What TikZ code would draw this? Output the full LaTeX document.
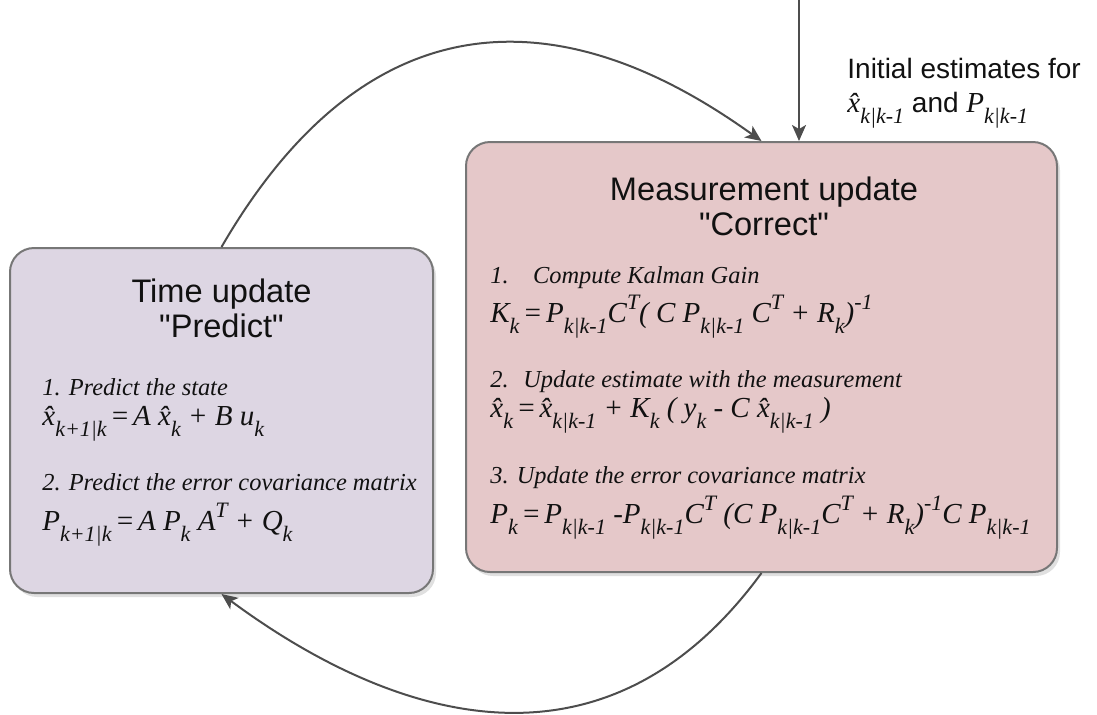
\documentclass[tikz,border=0pt]{standalone}
\usepackage{fontspec}
\setmainfont{Liberation Serif}
\setsansfont{Liberation Sans}[Ligatures=TeXOff]
\usetikzlibrary{arrows.meta, positioning, calc, shadows}
\definecolor{PredictFill}{HTML}{DDD6E3}
\definecolor{CorrectFill}{HTML}{E5C8C9}
\definecolor{BoxLine}{HTML}{777777}
\definecolor{ArrowGray}{HTML}{4D4D4D}
\definecolor{DarkText}{HTML}{111111}

% small helpers for the italic formulas
\newcommand\sub[1]{\raisebox{-0.4em}{\fontsize{11}{12}\selectfont #1}}
\newcommand\sups[1]{\raisebox{0.42em}{\fontsize{11}{12}\selectfont #1}}
\newcommand\xhat{\^{x}}
\newcommand\eqs{\hspace{0.12em}=\hspace{0.12em}}
\newcommand\eqp[1]{{\rmfamily\itshape\fontsize{14.5}{17}\selectfont #1}}

\tikzset{
  stagebox/.style={draw=BoxLine, rounded corners=12pt, line width=1pt,
    drop shadow={shadow xshift=1.5pt, shadow yshift=-2pt, opacity=0.12, fill=black}},
  titletext/.style={font=\sffamily\fontsize{16.3}{18}\selectfont, text=DarkText, anchor=base, inner sep=0pt},
  labeltext/.style={font=\sffamily\fontsize{14}{16}\selectfont, text=DarkText, anchor=base west, inner sep=0pt},
  steptext/.style={font=\itshape\fontsize{12.2}{14}\selectfont, text=DarkText, anchor=base west, inner sep=0pt},
  eqtext/.style={font=\itshape\fontsize{14.5}{17}\selectfont, text=DarkText, anchor=base west, inner sep=0pt},
  flow/.style={draw=ArrowGray, line width=1pt, -{Stealth[length=8pt,width=7pt,inset=2pt]}}
}

\begin{document}
\begin{tikzpicture}[x=0.5pt, y=-0.5pt]
  \useasboundingbox (0,0) rectangle (1097,714);

  % the two stages
  \node[stagebox, fill=PredictFill, minimum width=211.5pt, minimum height=172.5pt] (predict) at (221.5,420.5) {};
  \node[stagebox, fill=CorrectFill, minimum width=295.5pt, minimum height=215pt] (correct) at (761.5,357) {};

  % time update
  \node[titletext] (predtitle) at (221.5,302) {Time update};
  \node[titletext] (predname) at (221.5,337) {"Predict"};
  \node[steptext] (predone) at (42,395) {1. Predict the state};
  \node[eqtext] (predeqone) at (42,425) {\xhat\sub{k+1|k}\eqs A \xhat\sub{k} + B u\sub{k}};
  \node[steptext] (predtwo) at (42,490) {2. Predict the error covariance matrix};
  \node[eqtext] (predeqtwo) at (42,530) {P\sub{k+1|k}\eqs A P\sub{k} A\sups{T} + Q\sub{k}};

  % measurement update
  \node[titletext] (corrtitle) at (764,200) {Measurement update};
  \node[titletext] (corrname) at (764,235) {"Correct"};
  \node[steptext] (corrone) at (490,283) {1.\hspace{1em}Compute Kalman Gain};
  \node[eqtext] (correqone) at (490,322) {K\sub{k}\eqs P\sub{k|k-1}C\sups{T}( C P\sub{k|k-1} C\sups{T} + R\sub{k})\sups{-1}};
  \node[steptext] (corrtwo) at (490,387) {2.\hspace{0.6em}Update estimate with the measurement};
  \node[eqtext] (correqtwo) at (490,417) {\xhat\sub{k}\eqs\xhat\sub{k|k-1} + K\sub{k} ( y\sub{k} - C \xhat\sub{k|k-1} )};
  \node[steptext] (corrthree) at (490,483) {3. Update the error covariance matrix};
  \node[eqtext] (correqthree) at (490,523) {P\sub{k}\eqs P\sub{k|k-1} -P\sub{k|k-1}C\sups{T} (C P\sub{k|k-1}C\sups{T} + R\sub{k})\sups{-1}C P\sub{k|k-1}};

  % initial estimates
  \node[labeltext] (initone) at (847,78) {Initial estimates for};
  \node[labeltext] (inittwo) at (847,112) {\eqp{\xhat\sub{k|k-1}} and \eqp{P\sub{k|k-1}}};

  \coordinate (init) at (799,0);
  \coordinate (initend) at ($(correct.north)+(37.5,0)$);
  \draw[flow] (init) -- (initend);

  % the loop
  \draw[flow] (predict.north) .. controls (413,-83) and (659,68) .. (correct.north);
  \draw[flow] (correct.south) .. controls (590,807) and (362,698) .. (predict.south);
\end{tikzpicture}
\end{document}
